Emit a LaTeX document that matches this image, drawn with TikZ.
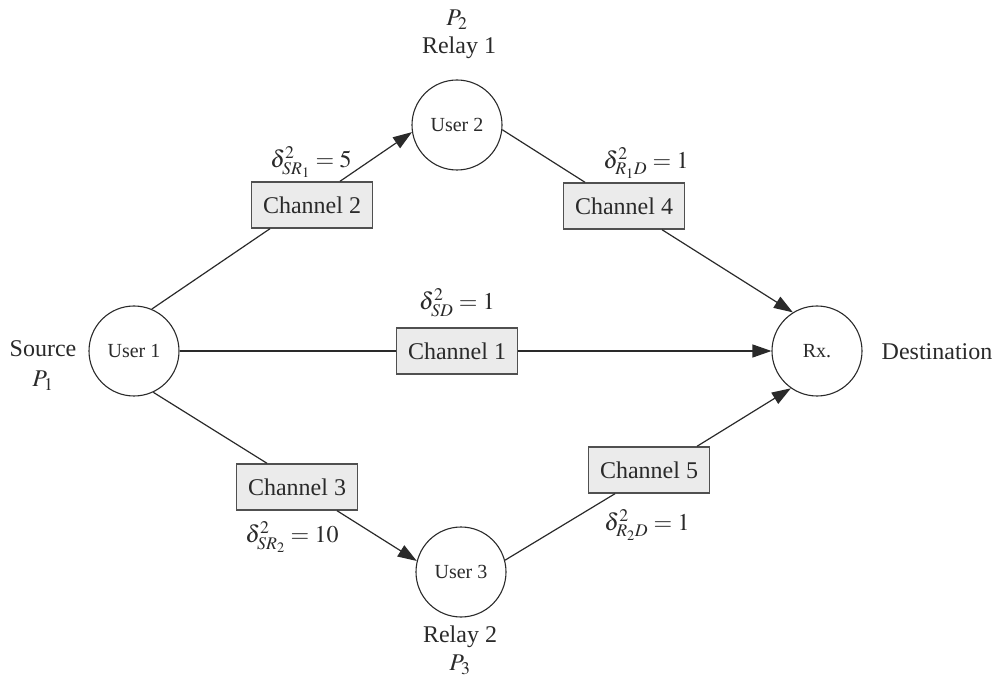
\documentclass[tikz,border=0pt]{standalone}
\usepackage{mathptmx}
\usepackage{fontspec}
\setmainfont{Liberation Serif}
\usetikzlibrary{arrows.meta}
\definecolor{boxfill}{HTML}{EBEBEB}
\definecolor{boxline}{HTML}{505050}
\definecolor{ink}{HTML}{2A2A2A}
\tikzset{
  user/.style={circle, draw=ink, line width=1.1pt, minimum size=90pt, inner sep=0pt,
    text=ink, font=\fontsize{20}{24}\selectfont},
  chan/.style={rectangle, draw=boxline, fill=boxfill, line width=1.4pt,
    minimum width=121pt, minimum height=46pt, inner sep=0pt,
    text=ink, font=\fontsize{24}{28}\selectfont},
  link/.style={line width=1.2pt, draw=ink},
  tolink/.style={link, -{Triangle[length=19pt,width=13pt]}},
  lbl/.style={font=\fontsize{24}{28}\selectfont, inner sep=0pt, text=ink},
}
\begin{document}
\begin{tikzpicture}[x=1pt,y=-1pt]
  \useasboundingbox (0,0) rectangle (996,684);

  % terminals and relays
  \node[user] (u1) at (134,351) {User 1};
  \node[user] (u2) at (457,125) {User 2};
  \node[user] (u3) at (461,572) {User 3};
  \node[user] (rx) at (817,351) {Rx.};

  % channel blocks
  \node[chan] (c1) at (457,351) {Channel 1};
  \node[chan] (c2) at (312,205) {Channel 2};
  \node[chan] (c3) at (297,487) {Channel 3};
  \node[chan] (c4) at (624,206) {Channel 4};
  \node[chan] (c5) at (649,470) {Channel 5};

  % upper relay path
  \draw[link]   (u1.67) -- ([xshift=-42pt]c2.south);
  \draw[tolink] ([xshift=28pt]c2.north) -- (u2.189);
  \draw[link]   (u2.-6) -- ([xshift=-39pt]c4.north);
  \draw[tolink] ([xshift=38pt]c4.south) -- (rx.122);

  % direct path
  \draw[link]   (u1.east) -- (c1.west);
  \draw[tolink] (c1.east) -- (rx.west);

  % lower relay path
  \draw[link]   (u1.-65) -- ([xshift=-30pt]c3.north);
  \draw[tolink] ([xshift=40pt]c3.south) -- (u3.166);
  \draw[link]   (u3.15) -- ([xshift=-34pt]c5.south);
  \draw[tolink] ([xshift=48pt]c5.north) -- (rx.235);

  % channel variances
  \node[lbl] (v2) at (311,162) {$\delta^2_{SR_1} = 5$};
  \node[lbl] (v4) at (646,163) {$\delta^2_{R_1D} = 1$};
  \node[lbl] (v1) at (457,303) {$\delta^2_{SD} = 1$};
  \node[lbl] (v3) at (292,537) {$\delta^2_{SR_2} = 10$};
  \node[lbl] (v5) at (647,525) {$\delta^2_{R_2D} = 1$};

  % roles and powers
  \node[lbl] (p2) at (457,20) {$P_2$};
  \node[lbl] (r1) at (459,48) {Relay 1};
  \node[lbl] (src) at (43,349) {Source};
  \node[lbl] (p1) at (43,381) {$P_1$};
  \node[lbl] (r2) at (460,637) {Relay 2};
  \node[lbl] (p3) at (460,665) {$P_3$};
  \node[lbl] (dst) at (937,352) {Destination};
\end{tikzpicture}
\end{document}
